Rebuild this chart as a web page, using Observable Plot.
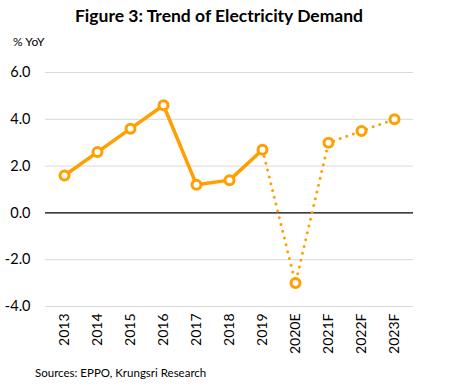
<!DOCTYPE html>
<html>
<head>
<meta charset="utf-8">
<script src="https://cdn.jsdelivr.net/npm/d3@7"></script>
<script src="https://cdn.jsdelivr.net/npm/@observablehq/plot@0.6"></script>
<style>
  body { margin: 0; background: #fff; }
  #wrap { position: relative; width: 457px; height: 388px; font-family: Lato, "Open Sans", sans-serif; color: #000; }
  #title { position: absolute; left: 0; width: 438px; top: 5px; text-align: center; font-weight: bold; font-size: 17.5px; }
  #unit { position: absolute; left: 13px; top: 34px; font-size: 12px; }
  #source { position: absolute; left: 35px; top: 366px; font-size: 11.5px; }
  #chart { position: absolute; left: 0; top: 0; }
</style>
</head>
<body>
<div id="wrap">
  <div id="chart"></div>
  <div id="title">Figure 3: Trend of Electricity Demand</div>
  <div id="unit">% YoY</div>
  <div id="source">Sources: EPPO, Krungsri Research</div>
</div>
<script>
const years = ["2013","2014","2015","2016","2017","2018","2019","2020E","2021F","2022F","2023F"];
const demand = [1.6, 2.6, 3.6, 4.6, 1.2, 1.4, 2.7, -3.0, 3.0, 3.5, 4.0];
const lastActual = "2019";
const yTicks = [-4, -2, 0, 2, 4, 6];

const data = years.map((y, i) => ({year: y, value: demand[i]}));
const cut = years.indexOf(lastActual);
const actual = data.slice(0, cut + 1);
const forecast = data.slice(cut);
const orange = "#ff9f00";

const plot = Plot.plot({
  width: 457,
  height: 388,
  marginTop: 72,
  marginBottom: 82,
  marginLeft: 45,
  marginRight: 44,
  style: {fontFamily: "Lato, 'Open Sans', sans-serif", fontSize: "14px", color: "#000", background: "transparent"},
  x: {type: "point", domain: years, padding: 0.5, label: null},
  y: {domain: [-4, 6], label: null},
  marks: [
    Plot.ruleY(yTicks.filter(d => d !== 0), {stroke: "#d9d9d9", strokeWidth: 1}),
    Plot.ruleY([0], {stroke: "#000", strokeWidth: 1.3}),
    Plot.axisY({ticks: yTicks, tickSize: 0, tickPadding: 15, tickFormat: d => d.toFixed(1), fontSize: 14.5, label: null}),
    Plot.axisX({tickSize: 0, tickRotate: -90, tickPadding: 7, fontSize: 14, label: null}),
    Plot.line(forecast, {x: "year", y: "value", stroke: orange, strokeWidth: 3, strokeDasharray: "0 7", strokeLinecap: "round"}),
    Plot.line(actual, {x: "year", y: "value", stroke: orange, strokeWidth: 3.5}),
    Plot.dot(data, {x: "year", y: "value", r: 4.5, stroke: orange, strokeWidth: 3, fill: "#fff"})
  ]
});
document.getElementById("chart").appendChild(plot);
</script>
</body>
</html>
